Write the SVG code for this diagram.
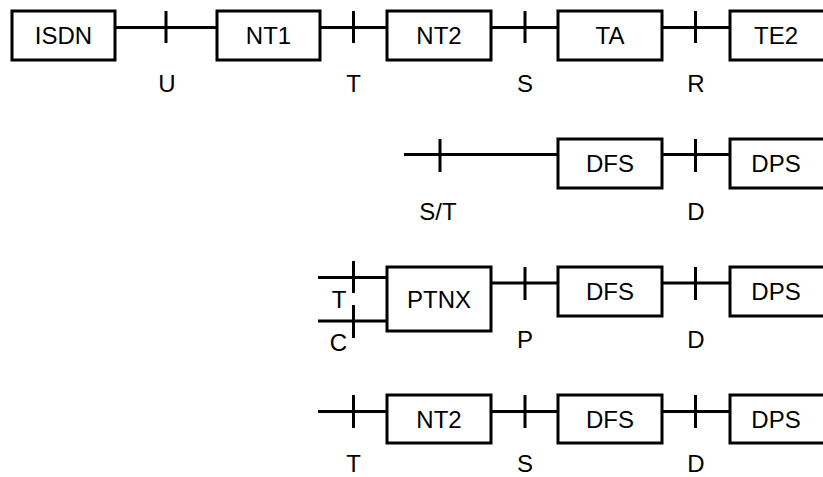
<svg xmlns="http://www.w3.org/2000/svg" width="823" height="477" viewBox="0 0 823 477">
<style>
.box{fill:#fff;stroke:#000;stroke-width:3}
.ln{stroke:#000;stroke-width:3;fill:none}
text{font-family:"Liberation Sans",Arial,sans-serif;font-size:24px;fill:#000;text-anchor:middle}
</style>
<rect width="823" height="477" fill="#fff"/>
<g id="connectors">
<path class="ln" d="M115 27.5H217M166 11V43M320 27.5H387M353.5 11V43M491 27.5H558M525 11V43M662 27.5H730M695.5 11V43"/>
<path class="ln" d="M404 154.5H558M440 139V172M662 154.5H730M695.5 139V172"/>
<path class="ln" d="M318 277.5H387M353.5 261V293M318 321H387M353.5 305V338M491 283H558M525 267V300M662 283H730M695.5 267V300"/>
<path class="ln" d="M318 411.5H387M353.5 395V428M491 411.5H558M525 395V428M662 411.5H730M695.5 395V428"/>
</g>
<g id="isdn"><rect class="box" x="12" y="11" width="103" height="49"/><text x="63.5" y="44">ISDN</text></g>
<g id="nt1"><rect class="box" x="217" y="11" width="103" height="49"/><text x="268.5" y="44">NT1</text></g>
<g id="nt2a"><rect class="box" x="387" y="11" width="104" height="49"/><text x="439" y="44">NT2</text></g>
<g id="ta"><rect class="box" x="558" y="11" width="104" height="49"/><text x="610" y="44">TA</text></g>
<g id="te2"><rect class="box" x="730" y="11" width="104" height="49"/><text x="776" y="44">TE2</text></g>
<g id="labels1">
<text x="167" y="92">U</text><text x="353.5" y="92">T</text><text x="525" y="92">S</text><text x="696" y="92">R</text>
</g>
<g id="dfs2"><rect class="box" x="558" y="139" width="104" height="49"/><text x="610" y="172">DFS</text></g>
<g id="dps2"><rect class="box" x="730" y="139" width="104" height="49"/><text x="776" y="172">DPS</text></g>
<g id="labels2"><text x="438" y="219.5">S/T</text><text x="696" y="219.5">D</text></g>
<g id="ptnx"><rect class="box" x="387" y="267" width="104" height="64"/><text x="439" y="307.5">PTNX</text></g>
<g id="dfs3"><rect class="box" x="558" y="267" width="104" height="49"/><text x="610" y="300">DFS</text></g>
<g id="dps3"><rect class="box" x="730" y="267" width="104" height="49"/><text x="776" y="300">DPS</text></g>
<g id="labels3"><text x="339" y="307.5">T</text><text x="338.5" y="351">C</text><text x="525" y="347.5">P</text><text x="696" y="347.5">D</text></g>
<g id="nt2b"><rect class="box" x="387" y="395" width="104" height="48"/><text x="439" y="427.5">NT2</text></g>
<g id="dfs4"><rect class="box" x="558" y="395" width="104" height="48"/><text x="610" y="427.5">DFS</text></g>
<g id="dps4"><rect class="box" x="730" y="395" width="104" height="48"/><text x="776" y="427.5">DPS</text></g>
<g id="labels4"><text x="353.5" y="472">T</text><text x="525" y="472">S</text><text x="696" y="472">D</text></g>
</svg>
